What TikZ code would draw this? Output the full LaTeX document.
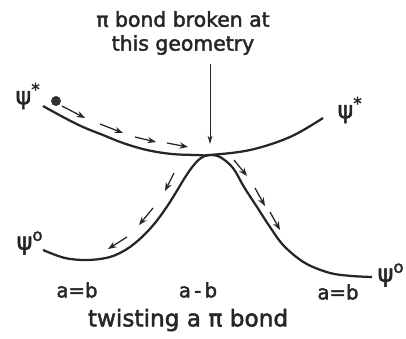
\documentclass[tikz,border=0pt]{standalone}
\usepackage{fontspec}
\setmainfont{DejaVu Sans}
\newfontfamily\labfont{DejaVu Sans}[FakeBold=2]
\usepackage{tikz}
\usetikzlibrary{arrows.meta}

\tikzset{
  curve/.style={line width=1.6pt, black!85},
  flow/.style={line width=0.9pt, black!85, -{Stealth[length=6pt, width=4.5pt]}},
  lbl/.style={font=\labfont\fontsize{14.5}{17}\selectfont, text=black!85, inner sep=1pt},
  psilbl/.style={font=\labfont\fontsize{17}{17}\selectfont, text=black!85, inner sep=1pt}
}

\begin{document}
\begin{tikzpicture}[x=0.025cm, y=-0.025cm]
  \useasboundingbox (0,0) rectangle (406,338);

  % ── potential curves ──
  \draw[curve] plot[smooth, tension=0.6] coordinates
    {(43,106) (63,117) (83,127) (103,135) (123,143) (147,150) (172,154) (197,155) (210,155)
     (250,150) (290,137) (323,118)};
  \draw[curve] plot[smooth, tension=0.55] coordinates
    {(43,250) (65,258) (88,260) (110,257) (127,249) (142,237) (155,223) (166,208) (175,194)
     (184,179) (193,166) (201,158) (209,155)
     (220,157) (233,168) (244,187) (257,207) (270,227) (284,246) (305,263) (330,273) (352,276) (372,277)};

  % ── starting point ──
  \fill[black!80] (56,101) circle (5);

  % ── state labels ──
  \node[psilbl] (psiA) at (28,96)  {ψ\textsuperscript{*}};
  \node[psilbl] (psiB) at (350,110) {ψ\textsuperscript{*}};
  \node[psilbl] (psiC) at (30,243) {ψ\textsuperscript{o}};
  \node[psilbl] (psiD) at (391,275) {ψ\textsuperscript{o}};

  % ── annotation and pointer ──
  \node[lbl, align=center] (note) at (183,33)
    {π bond broken at\\this geometry};
  \coordinate (ptop)  at (210,64);
  \coordinate (touch) at (210,144);
  \draw[line width=0.6pt, black!85, -{Stealth[length=6pt, width=3.5pt]}] (ptop) -- (touch);

  % ── motion arrows ──
  \coordinate (u1s) at (62,106);  \coordinate (u1e) at (85,118);
  \coordinate (u2s) at (100,124); \coordinate (u2e) at (123,133);
  \coordinate (u3s) at (135,137); \coordinate (u3e) at (156,142);
  \coordinate (u4s) at (167,143); \coordinate (u4e) at (188,147);
  \draw[flow] (u1s) -- (u1e);
  \draw[flow] (u2s) -- (u2e);
  \draw[flow] (u3s) -- (u3e);
  \draw[flow] (u4s) -- (u4e);

  \coordinate (r1s) at (234,160); \coordinate (r1e) at (247,176);
  \coordinate (r2s) at (255,188); \coordinate (r2e) at (265,206);
  \coordinate (r3s) at (270,212); \coordinate (r3e) at (280,230);
  \draw[flow] (r1s) -- (r1e);
  \draw[flow] (r2s) -- (r2e);
  \draw[flow] (r3s) -- (r3e);

  \coordinate (l1s) at (174,173); \coordinate (l1e) at (165,191);
  \coordinate (l2s) at (153,208); \coordinate (l2e) at (139,225);
  \coordinate (l3s) at (127,237); \coordinate (l3e) at (108,249);
  \draw[flow] (l1s) -- (l1e);
  \draw[flow] (l2s) -- (l2e);
  \draw[flow] (l3s) -- (l3e);

  % ── geometry labels ──
  \node[lbl, font=\labfont\fontsize{14}{16}\selectfont] (geoL) at (77,290)  {a=b};
  \node[lbl, font=\labfont\fontsize{14}{16}\selectfont] (geoM) at (198,290) {a\,-\,b};
  \node[lbl, font=\labfont\fontsize{14}{16}\selectfont] (geoR) at (338,292) {a=b};

  \node[lbl, font=\labfont\fontsize{16.5}{18}\selectfont] (title) at (188,320)
    {twisting a π bond};
\end{tikzpicture}
\end{document}
